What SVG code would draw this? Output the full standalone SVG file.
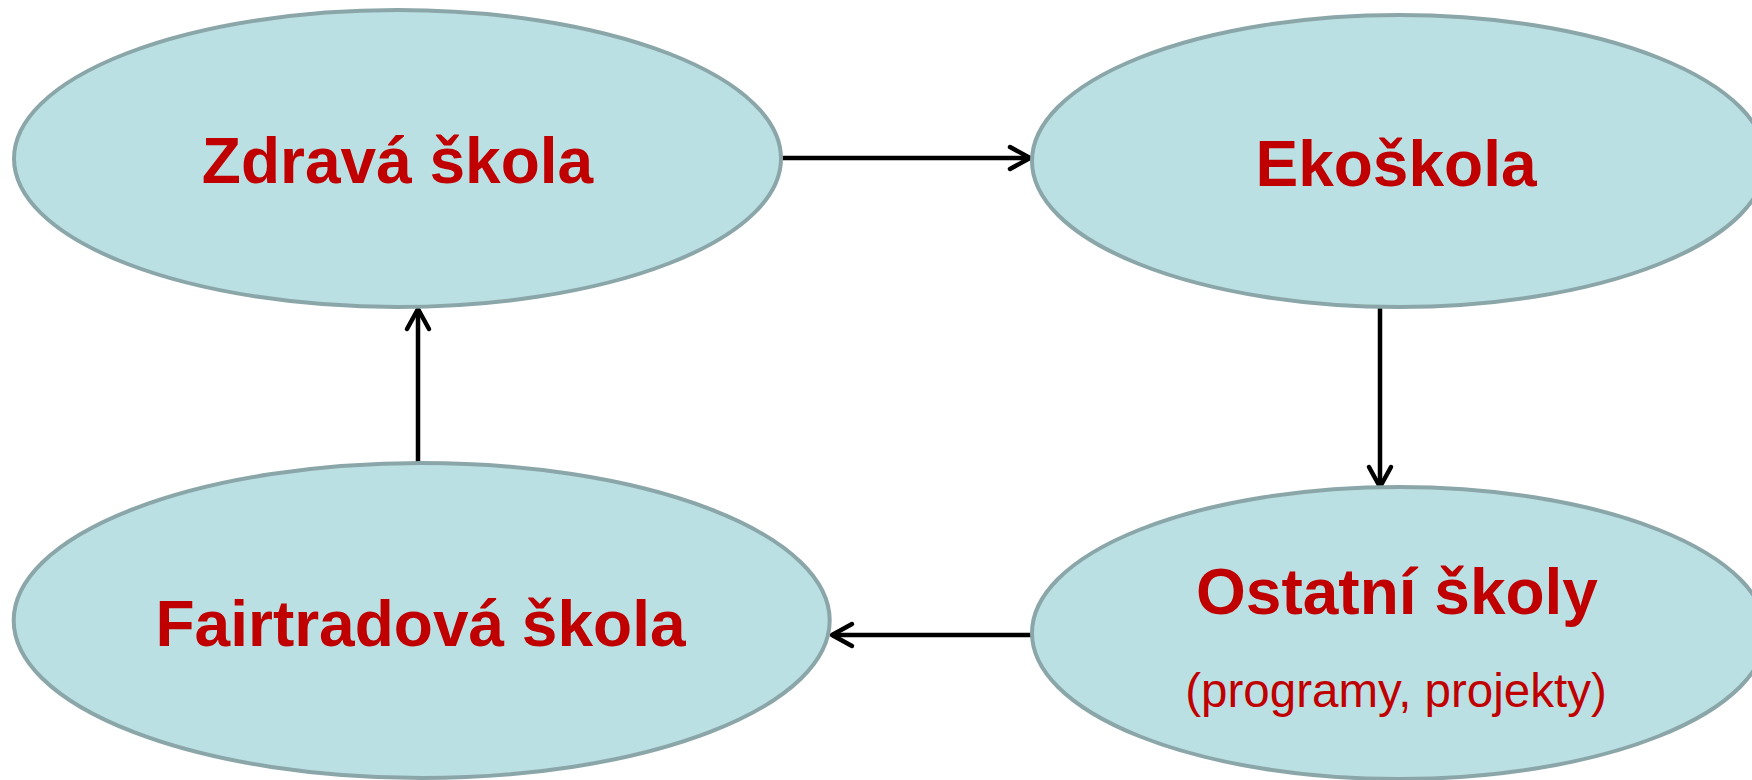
<svg xmlns="http://www.w3.org/2000/svg" width="1752" height="780" viewBox="0 0 1752 780">
<style>
.node { fill: #BBE0E3; stroke: #8BA6A9; stroke-width: 4; }
.title { font-family: "Liberation Sans", Arial, sans-serif; font-weight: bold; font-size: 64px; fill: #C00000; text-anchor: middle; }
.sub { font-family: "Liberation Sans", Arial, sans-serif; font-size: 47.5px; fill: #C00000; text-anchor: middle; }
.edge { stroke: #000; stroke-width: 4.5; fill: none; marker-end: url(#arrow); }
</style>
<defs>
<marker id="arrow" markerUnits="userSpaceOnUse" markerWidth="30" markerHeight="30" viewBox="-24 -15 28 30" refX="0" refY="0" orient="auto" overflow="visible">
<path d="M -20 -11 L 0 0 L -20 11" fill="none" stroke="#000" stroke-width="4.5" stroke-linecap="round" stroke-linejoin="round"/>
</marker>
</defs>
<rect width="1752" height="780" fill="#fff"/>
<g id="connectors">
<line class="edge" x1="781" y1="158" x2="1030" y2="158"/>
<line class="edge" x1="1380" y1="307" x2="1380" y2="487"/>
<line class="edge" x1="1032" y1="635" x2="832" y2="635"/>
<line class="edge" x1="418" y1="462" x2="418" y2="309"/>
</g>
<g id="zdrava-skola">
<ellipse class="node" cx="397.5" cy="158.5" rx="383.5" ry="148.5"/>
<text class="title" x="397.5" y="183">Zdravá škola</text>
</g>
<g id="ekoskola">
<ellipse class="node" cx="1399" cy="161" rx="367" ry="146"/>
<text class="title" x="1396" y="186">Ekoškola</text>
</g>
<g id="fairtradova-skola">
<ellipse class="node" cx="421.7" cy="620.5" rx="408" ry="157.5"/>
<text class="title" x="420.5" y="646">Fairtradová škola</text>
</g>
<g id="ostatni-skoly">
<ellipse class="node" cx="1399" cy="633" rx="367" ry="146"/>
<text class="title" x="1397" y="614">Ostatní školy</text>
<text class="sub" x="1396" y="707">(programy, projekty)</text>
</g>
</svg>
